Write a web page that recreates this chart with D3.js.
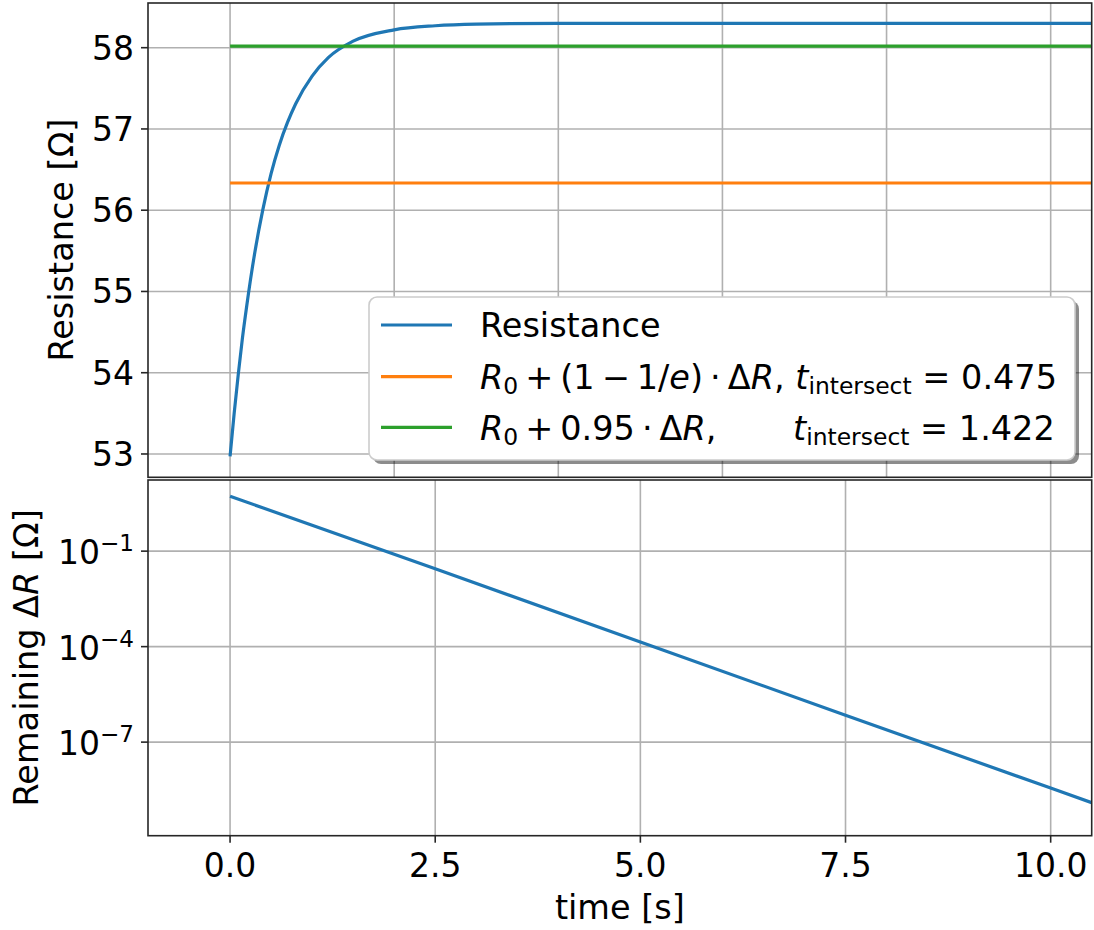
<!DOCTYPE html>
<html>
<head>
<meta charset="utf-8">
<script src="https://cdn.jsdelivr.net/npm/d3@7"></script>
<style>
  body { margin: 0; background: #fff; }
  svg { font-family: "DejaVu Sans", sans-serif; }
  text { white-space: pre; }
</style>
</head>
<body>
<div id="chart"></div>
<script>
// Resistance step response + remaining delta on log axis

// top panel: resistance
const timeS = [0, 0.05, 0.1, 0.15, 0.2, 0.3, 0.4, 0.5, 0.6, 0.7, 0.8, 1.0, 1.2, 1.5, 2.0, 2.5, 3.0, 4.0, 6.0, 8.0, 10.5];
const resistance = [52.97, 53.50, 53.98, 54.42, 54.80, 55.47, 56.01, 56.45, 56.80, 57.08, 57.31, 57.65, 57.88, 58.08, 58.22, 58.27, 58.29, 58.30, 58.30, 58.30, 58.30];

// reference levels (horizontal lines)
const levelTimes = [0, 10.5];
const level1e = 56.335;
const level95 = 58.02;

// bottom panel: remaining delta R
const timeLog = [0, 2.5, 5, 7.5, 10, 10.5];
const remaining = [5.3, 2.8e-2, 1.4e-4, 7.0e-7, 3.6e-9, 1.25e-9];

const topXTicks = [0, 2, 4, 6, 8, 10];
const bottomXTicks = [0, 2.5, 5, 7.5, 10];
const topYTicks = [53, 54, 55, 56, 57, 58];
const logTicks = [1e-1, 1e-4, 1e-7];
const logTickExp = ['\u22121', '\u22124', '\u22127'];

const W = 1094, H = 930;
const left = 148, right = 1091.7;
const topPanel = { y0: 3, y1: 477.3 };
const botPanel = { y0: 480, y1: 835.7 };

const C = { blue: '#1f77b4', orange: '#ff7f0e', green: '#2ca02c', grid: '#b0b0b0', spine: '#262626' };
const FS = 33.5;   // labels + legend
const TFS = 33;    // tick labels
const LW = 3.2;
const G = 7;       // math operator gap

const svg = d3.select('#chart').append('svg')
    .attr('width', W)
    .attr('height', H);

const x = d3.scaleLinear().domain([-1.0, 10.5]).range([left, right]);
const yTop = d3.scaleLinear().domain([52.713, 58.55]).range([topPanel.y1, topPanel.y0]);
const yBot = d3.scaleLog().domain([Math.pow(10, -9.94), Math.pow(10, 1.235)]).range([botPanel.y1, botPanel.y0]);

// clip paths
const defs = svg.append('defs');
defs.append('clipPath').attr('id', 'clipTop').append('rect')
    .attr('x', left).attr('y', topPanel.y0).attr('width', right - left).attr('height', topPanel.y1 - topPanel.y0);
defs.append('clipPath').attr('id', 'clipBot').append('rect')
    .attr('x', left).attr('y', botPanel.y0).attr('width', right - left).attr('height', botPanel.y1 - botPanel.y0);

// ---------- top panel ----------
const gTop = svg.append('g');
const gridTop = gTop.append('g');
topXTicks.forEach(t => {
    gridTop.append('line')
        .attr('x1', x(t)).attr('x2', x(t))
        .attr('y1', topPanel.y0).attr('y2', topPanel.y1)
        .attr('stroke', C.grid).attr('stroke-width', 1.6);
});
topYTicks.forEach(v => {
    gridTop.append('line')
        .attr('x1', left).attr('x2', right)
        .attr('y1', yTop(v)).attr('y2', yTop(v))
        .attr('stroke', C.grid).attr('stroke-width', 1.6);
    gTop.append('line')
        .attr('x1', left - 7).attr('x2', left)
        .attr('y1', yTop(v)).attr('y2', yTop(v))
        .attr('stroke', C.spine).attr('stroke-width', 1.6);
    gTop.append('text')
        .attr('x', left - 14).attr('y', yTop(v))
        .attr('dy', '0.36em')
        .attr('text-anchor', 'end')
        .attr('font-size', TFS)
        .text(v);
});

const lineTop = d3.line()
    .x((d, i) => x(timeS[i]))
    .y(d => yTop(d))
    .curve(d3.curveMonotoneX);

const plotTop = gTop.append('g').attr('clip-path', 'url(#clipTop)');
plotTop.append('path')
    .attr('d', lineTop(resistance))
    .attr('fill', 'none').attr('stroke', C.blue).attr('stroke-width', LW);

const levelLine = d3.line().x(d => x(d[0])).y(d => yTop(d[1]));
plotTop.append('path')
    .attr('d', levelLine(levelTimes.map(t => [t, level1e])))
    .attr('fill', 'none').attr('stroke', C.orange).attr('stroke-width', LW);
plotTop.append('path')
    .attr('d', levelLine(levelTimes.map(t => [t, level95])))
    .attr('fill', 'none').attr('stroke', C.green).attr('stroke-width', LW);

gTop.append('rect')
    .attr('x', left).attr('y', topPanel.y0)
    .attr('width', right - left).attr('height', topPanel.y1 - topPanel.y0)
    .attr('fill', 'none').attr('stroke', C.spine).attr('stroke-width', 1.6);

gTop.append('text')
    .attr('transform', `translate(73,${(topPanel.y0 + topPanel.y1) / 2}) rotate(-90)`)
    .attr('text-anchor', 'middle')
    .attr('font-size', FS)
    .text('Resistance [\u03a9]');

// ---------- legend ----------
const lg = svg.append('g');
const lgBox = { x: 369, y: 297, w: 706, h: 163 };
lg.append('rect')
    .attr('x', lgBox.x + 4).attr('y', lgBox.y + 4)
    .attr('width', lgBox.w).attr('height', lgBox.h).attr('rx', 8)
    .attr('fill', '#000').attr('opacity', 0.45);
lg.append('rect')
    .attr('x', lgBox.x).attr('y', lgBox.y)
    .attr('width', lgBox.w).attr('height', lgBox.h).attr('rx', 8)
    .attr('fill', '#fff').attr('stroke', '#cccccc').attr('stroke-width', 1.6);

const rowsY = [325, 376.7, 427.3];
const rowColors = [C.blue, C.orange, C.green];
rowsY.forEach((ry, i) => {
    lg.append('line')
        .attr('x1', 381).attr('x2', 452)
        .attr('y1', ry).attr('y2', ry)
        .attr('stroke', rowColors[i]).attr('stroke-width', LW);
});

lg.append('text')
    .attr('x', 480).attr('y', 337)
    .attr('font-size', FS)
    .text('Resistance');

// mathtext-like pieces: [text, style, gapBefore]  style: n normal, i italic, s subscript
function mathText(g, px, py, parts) {
    const t = g.append('text').attr('x', px).attr('y', py).attr('font-size', FS);
    let sub = false;
    parts.forEach(([s, st, gap]) => {
        const sp = t.append('tspan').text(s);
        if (gap) sp.attr('dx', gap);
        if (st === 'i') sp.attr('font-style', 'italic');
        if (st === 's') {
            sp.attr('font-size', FS * 0.7);
            if (!sub) sp.attr('dy', 5);
            sub = true;
        } else if (sub) {
            sp.attr('dy', -5);
            sub = false;
        }
    });
    return t;
}

mathText(lg, 480, 389, [
    ['R', 'i'], ['0', 's'], ['+', 'n', G], ['(1', 'n', G], ['\u2212', 'n', G], ['1/', 'n', G], ['e', 'i'],
    [')', 'n'], ['\u00b7', 'n', G], ['\u0394', 'n', G], ['R', 'i'],
    [', ', 'n'], ['t', 'i'], ['intersect', 's'], [' = 0.475', 'n']
]);
mathText(lg, 480, 440, [
    ['R', 'i'], ['0', 's'], ['+', 'n', G], ['0.95', 'n', G], ['\u00b7', 'n', G], ['\u0394', 'n', G], ['R', 'i'], [',', 'n']
]);
mathText(lg, 793, 440, [
    ['t', 'i'], ['intersect', 's'], [' = 1.422', 'n']
]);

// ---------- bottom panel ----------
const gBot = svg.append('g');
bottomXTicks.forEach(t => {
    gBot.append('line')
        .attr('x1', x(t)).attr('x2', x(t))
        .attr('y1', botPanel.y0).attr('y2', botPanel.y1)
        .attr('stroke', C.grid).attr('stroke-width', 1.6);
    gBot.append('line')
        .attr('x1', x(t)).attr('x2', x(t))
        .attr('y1', botPanel.y1).attr('y2', botPanel.y1 + 7)
        .attr('stroke', C.spine).attr('stroke-width', 1.6);
    gBot.append('text')
        .attr('x', x(t)).attr('y', 877)
        .attr('text-anchor', 'middle')
        .attr('font-size', TFS)
        .text(t.toFixed(1));
});
logTicks.forEach((v, i) => {
    gBot.append('line')
        .attr('x1', left).attr('x2', right)
        .attr('y1', yBot(v)).attr('y2', yBot(v))
        .attr('stroke', C.grid).attr('stroke-width', 1.6);
    gBot.append('line')
        .attr('x1', left - 7).attr('x2', left)
        .attr('y1', yBot(v)).attr('y2', yBot(v))
        .attr('stroke', C.spine).attr('stroke-width', 1.6);
    const lab = gBot.append('text')
        .attr('x', left - 14).attr('y', yBot(v) + 13)
        .attr('text-anchor', 'end')
        .attr('font-size', TFS);
    lab.append('tspan').text('10');
    lab.append('tspan').attr('dy', -13).attr('font-size', TFS * 0.7).text(logTickExp[i]);
});

const lineBot = d3.line()
    .x((d, i) => x(timeLog[i]))
    .y(d => yBot(d));
gBot.append('g').attr('clip-path', 'url(#clipBot)')
    .append('path')
    .attr('d', lineBot(remaining))
    .attr('fill', 'none').attr('stroke', C.blue).attr('stroke-width', LW);

gBot.append('rect')
    .attr('x', left).attr('y', botPanel.y0)
    .attr('width', right - left).attr('height', botPanel.y1 - botPanel.y0)
    .attr('fill', 'none').attr('stroke', C.spine).attr('stroke-width', 1.6);

const yl = gBot.append('text')
    .attr('transform', `translate(38,${(botPanel.y0 + botPanel.y1) / 2}) rotate(-90)`)
    .attr('text-anchor', 'middle')
    .attr('font-size', FS);
yl.append('tspan').text('Remaining \u0394');
yl.append('tspan').attr('font-style', 'italic').text('R');
yl.append('tspan').text(' [\u03a9]');

svg.append('text')
    .attr('x', (left + right) / 2).attr('y', 919)
    .attr('text-anchor', 'middle')
    .attr('font-size', FS)
    .text('time [s]');
</script>
</body>
</html>
